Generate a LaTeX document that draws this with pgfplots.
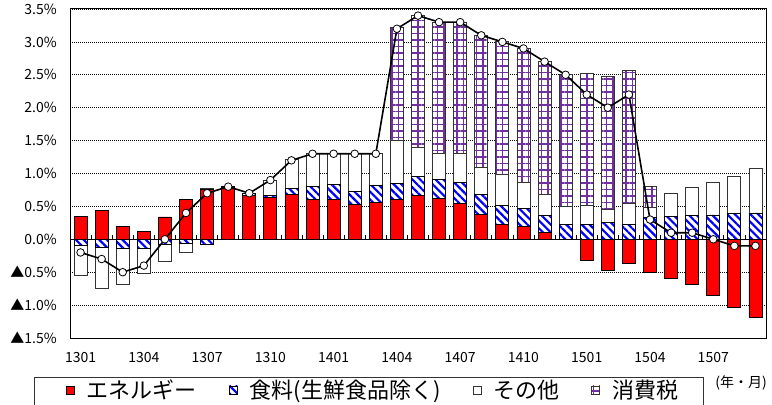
\documentclass[border=0pt]{standalone}
\usepackage{fontspec}
\setmainfont{Noto Sans CJK JP}
\usepackage{pgfplots}
\pgfplotsset{compat=1.18}
\usepackage{pgfplotstable}
\usetikzlibrary{patterns.meta}
\definecolor{enred}{HTML}{FF0000}
\definecolor{fdblue}{HTML}{0000FF}
\definecolor{taxpurple}{HTML}{7030A0}

% Ep/Fp/Op/T: positive parts (stacked up), En/Fn/On: negative parts (stacked down), Tot: total
\pgfplotstableread{
i  Ep    Fp    Op    T     En     Fn     On     Tot
0  0.35  0.00  0.00  0.00  0.00  -0.10  -0.45  -0.20
1  0.44  0.00  0.00  0.00  0.00  -0.13  -0.61  -0.30
2  0.19  0.00  0.00  0.00  0.00  -0.14  -0.55  -0.50
3  0.12  0.00  0.00  0.00  0.00  -0.14  -0.38  -0.40
4  0.34  0.00  0.00  0.00  0.00  -0.08  -0.26   0.00
5  0.60  0.00  0.00  0.00  0.00  -0.06  -0.14   0.40
6  0.76  0.00  0.01  0.00  0.00  -0.07   0.00   0.70
7  0.79  0.01  0.00  0.00  0.00   0.00   0.00   0.80
8  0.67  0.02  0.01  0.00  0.00   0.00   0.00   0.70
9  0.63  0.04  0.23  0.00  0.00   0.00   0.00   0.90
10 0.68  0.09  0.45  0.00  0.00   0.00   0.00   1.20
11 0.61  0.19  0.50  0.00  0.00   0.00   0.00   1.30
12 0.61  0.23  0.46  0.00  0.00   0.00   0.00   1.30
13 0.53  0.20  0.57  0.00  0.00   0.00   0.00   1.30
14 0.56  0.26  0.49  0.00  0.00   0.00   0.00   1.30
15 0.61  0.24  0.66  1.71  0.00   0.00   0.00   3.20
16 0.66  0.29  0.45  2.00  0.00   0.00   0.00   3.40
17 0.62  0.29  0.39  2.00  0.00   0.00   0.00   3.30
18 0.55  0.32  0.43  2.00  0.00   0.00   0.00   3.30
19 0.38  0.30  0.41  2.01  0.00   0.00   0.00   3.10
20 0.22  0.30  0.47  2.01  0.00   0.00   0.00   3.00
21 0.19  0.28  0.40  2.03  0.00   0.00   0.00   2.90
22 0.10  0.26  0.32  2.02  0.00   0.00   0.00   2.70
23 0.00  0.23  0.27  2.01  0.00   0.00   0.00   2.50
24 0.00  0.23  0.28  2.01 -0.32   0.00   0.00   2.20
25 0.00  0.25  0.21  2.01 -0.47   0.00   0.00   2.00
26 0.00  0.23  0.32  2.01 -0.37   0.00   0.00   2.20
27 0.00  0.33  0.16  0.31 -0.51   0.00   0.00   0.30
28 0.00  0.35  0.35  0.00 -0.59   0.00   0.00   0.10
29 0.00  0.36  0.43  0.00 -0.68   0.00   0.00   0.10
30 0.00  0.37  0.49  0.00 -0.86   0.00   0.00   0.00
31 0.00  0.39  0.56  0.00 -1.04   0.00   0.00  -0.10
32 0.00  0.40  0.68  0.00 -1.18   0.00   0.00  -0.10
}\datatab

\pgfplotsset{
  base/.style={
    scale only axis, width=696bp, height=329bp,
    at={(70bp,67bp)}, anchor=south west,
    xmin=-0.5, xmax=32.5, ymin=-1.5, ymax=3.5,
  },
  barstyle/.style={ybar stacked, bar width=13bp},
  enstyle/.style={fill=enred, draw=black, line width=0.8bp},
  fdstyle/.style={fill=white, draw=black, line width=0.8bp,
    postaction={pattern={Lines[angle=-45,distance=5.5bp,line width=2.2bp]}, pattern color=fdblue}},
  otstyle/.style={fill=white, draw=black!80, line width=0.8bp},
  txstyle/.style={fill=white, draw=black!80, line width=0.8bp,
    postaction={pattern={Hatch[angle=0,distance=6.5bp,line width=1.2bp,xshift=2bp,yshift=1bp]}, pattern color=taxpurple}},
}

\begin{document}
\begin{tikzpicture}
\begin{axis}[base, barstyle,
  axis line style={black, line width=1bp},
  ytick={-1.5,-1,-0.5,0,0.5,1,1.5,2,2.5,3,3.5},
  yticklabels={▲1.5\%,▲1.0\%,▲0.5\%,0.0\%,0.5\%,1.0\%,1.5\%,2.0\%,2.5\%,3.0\%,3.5\%},
  xtick={0,3,6,9,12,15,18,21,24,27,30},
  xticklabels={1301,1304,1307,1310,1401,1404,1407,1410,1501,1504,1507},
  major tick length=0pt,
  ymajorgrids, major grid style={black, line width=0.7bp, dash pattern=on 1bp off 1bp},
  tick label style={font=\fontsize{14bp}{16bp}\selectfont, inner sep=0pt},
  yticklabel style={xshift=-13bp},
  xticklabel style={yshift=-14bp},
  legend columns=4,
  legend style={draw=none, fill=none, inner sep=0pt, at={(-0.00575,-0.158)}, anchor=west,
     font=\fontsize{22bp}{24bp}\selectfont,
     /tikz/every odd column/.append style={column sep=10bp},
     /tikz/every even column/.append style={column sep=30bp}},
  legend image code/.code={\draw[#1] (0bp,-4bp) rectangle (8bp,4bp);},
]
\addplot[enstyle] table[x=i,y=Ep]{\datatab};
\addplot[fdstyle] table[x=i,y=Fp]{\datatab};
\addplot[otstyle] table[x=i,y=Op]{\datatab};
\addplot[txstyle] table[x=i,y=T]{\datatab};
\legend{エネルギー,食料(生鮮食品除く),その他,消費税}
\end{axis}

\begin{axis}[base, barstyle, hide axis]
\addplot[enstyle] table[x=i,y=En]{\datatab};
\addplot[fdstyle] table[x=i,y=Fn]{\datatab};
\addplot[otstyle] table[x=i,y=On]{\datatab};
\end{axis}

\begin{axis}[base, hide axis]
\draw[black, line width=1bp] (axis cs:-0.5,0) -- (axis cs:32.5,0);
\pgfplotsinvokeforeach{0.5,1.5,...,31.5}{\draw[black, line width=0.8bp] (axis cs:#1,0) -- ++(0bp,4bp);}
\addplot[black, line width=1.6bp, mark=*, mark size=3.8bp,
  mark options={fill=white, draw=black, line width=0.8bp}] table[x=i,y=Tot]{\datatab};
\end{axis}

\draw[black!80, line width=1bp] (34bp,27bp) rectangle (703bp,-20bp);
\node[font=\fontsize{14bp}{16bp}\selectfont] at (741bp,22bp) {(年・月)};
\pgfresetboundingbox
\useasboundingbox (0,0) rectangle (772bp,405bp);
\end{tikzpicture}
\end{document}
